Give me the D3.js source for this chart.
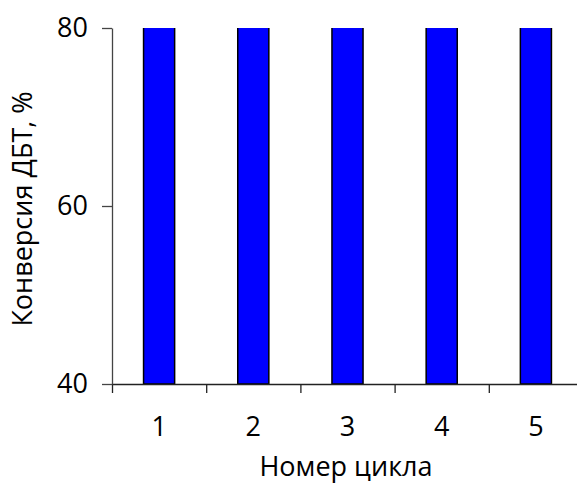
<!DOCTYPE html>
<html><head><meta charset="utf-8">
<script src="https://cdn.jsdelivr.net/npm/d3@7"></script>
<style>body{margin:0;background:#fff;} svg{display:block;font-family:"Open Sans",sans-serif;}</style>
</head><body>
<svg id="c" width="577" height="486"></svg>
<script>
const categories = ["1","2","3","4","5"];
const conversion = [100, 100, 100, 100, 100];
const yTicks = [40, 60, 80];
const yLabel = "Конверсия ДБТ, %";
const xLabel = "Номер цикла";

const svg = d3.select("#c");
const m = {left:112, top:28, right:583, bottom:384};
const x = d3.scaleBand().domain(categories).range([m.left, m.right]).paddingInner(0.67).paddingOuter(0.335);
const xb = d3.scaleLinear().domain([0, categories.length]).range([m.left, m.right]);
const y = d3.scaleLinear().domain([40, 80]).range([m.bottom, m.top]);

svg.append("clipPath").attr("id","clip").append("rect")
  .attr("x", m.left).attr("y", m.top).attr("width", m.right-m.left).attr("height", m.bottom-m.top);

svg.append("g").attr("clip-path","url(#clip)").selectAll("rect").data(categories).join("rect")
  .attr("x", d=>x(d)).attr("width", x.bandwidth())
  .attr("y", (d,i)=>y(conversion[i])).attr("height", (d,i)=>y(40)-y(conversion[i]))
  .attr("fill","#0000ff").attr("stroke","#000").attr("stroke-width",1.5);

// x axis line with boundary ticks
const gx = svg.append("g").attr("transform",`translate(0,${m.bottom})`)
  .call(d3.axisBottom(xb).tickValues(d3.range(0, categories.length+1)).tickFormat("").tickSize(9).tickSizeOuter(0));
gx.selectAll("path,line").attr("stroke","#222").attr("stroke-width",1.3);

// x labels
const gxl = svg.append("g").attr("transform",`translate(0,${m.bottom})`)
  .call(d3.axisBottom(x).tickSize(0).tickPadding(33));
gxl.select(".domain").remove();
gxl.selectAll("text").attr("font-size",27).attr("font-family","'Open Sans',sans-serif").attr("fill","#000");

// y axis
const gy = svg.append("g").attr("transform",`translate(${m.left},0)`)
  .call(d3.axisLeft(y).tickValues(yTicks).tickSize(10).tickSizeOuter(0).tickPadding(14));
gy.selectAll("path,line").attr("stroke","#444").attr("stroke-width",1.3);
gy.selectAll("text").attr("font-size",27).attr("font-family","'Open Sans',sans-serif").attr("fill","#000");

svg.append("text").attr("transform",`translate(32,${(m.top+m.bottom)/2+3}) rotate(-90)`)
  .attr("text-anchor","middle").attr("font-size",27).text(yLabel);
svg.append("text").attr("x",346).attr("y",476)
  .attr("text-anchor","middle").attr("font-size",27).text(xLabel);
</script>
</body></html>
